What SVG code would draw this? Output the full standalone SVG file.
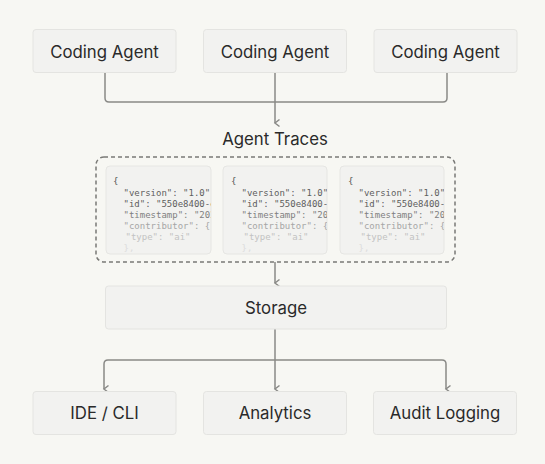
<svg xmlns="http://www.w3.org/2000/svg" width="545" height="464" viewBox="0 0 545 464">
<style>
.bg{fill:#f7f7f3}
.box{fill:#f2f2f0;stroke:#e4e4e1;stroke-width:1}
.card{fill:#f2f2f0;stroke:#e6e6e3;stroke-width:1}
.lbl{font-family:Inter,"Liberation Sans",sans-serif;font-size:16.8px;fill:#2a2a2a;text-anchor:middle}
.code{font-family:"DejaVu Sans Mono","Liberation Mono",monospace;font-size:9px}
.wire{fill:none;stroke:#8a8a87;stroke-width:1.5}
.dash{fill:none;stroke:#7a7a77;stroke-width:1.5;stroke-dasharray:4 3}
.l1{fill:#555}.l2{fill:#5e5e5e}.l3{fill:#808080}.l4{fill:#a6a6a6}.l5{fill:#c2c2c2}.l6{fill:#dcdcdc}
</style>
<defs>
<marker id="arr" viewBox="0 0 10 10" refX="5" refY="8" markerWidth="10" markerHeight="10" markerUnits="userSpaceOnUse" orient="auto-start-reverse">
<path d="M1.5,3.5 L5,8 L8.5,3.5" fill="none" stroke="#8a8a87" stroke-width="1.5"/>
</marker>
<clipPath id="c1"><rect x="106" y="166" width="105" height="88" rx="4"/></clipPath>
<clipPath id="c2"><rect x="223" y="166" width="104" height="88" rx="4"/></clipPath>
<clipPath id="c3"><rect x="340" y="166" width="104" height="88" rx="4"/></clipPath>
<g id="codetext">
<text class="code l1" x="0" y="184">{</text>
<text class="code l2" x="10.5" y="195.5">"version": "1.0",</text>
<text class="code l2" x="10.5" y="206.5">"id": "550e8400-e29b",</text>
<text class="code l3" x="10.5" y="217.5">"timestamp": "2025-01",</text>
<text class="code l4" x="10.5" y="228.5">"contributor": {</text>
<text class="code l5" x="12.5" y="239.5">"type": "ai"</text>
<text class="code l6" x="10.5" y="251">},</text>
</g>
</defs>
<rect class="bg" x="0" y="0" width="545" height="464"/>

<g id="connectors">
<path class="wire" d="M105,72 V98 Q105,102 109,102 H443 Q447,102 447,98 V72"/>
<path class="wire" d="M275,72 V123" marker-end="url(#arr)"/>
<path class="wire" d="M275,262 V283" marker-end="url(#arr)"/>
<path class="wire" d="M275,329 V389" marker-end="url(#arr)"/>
<path class="wire" d="M104,389 V364 Q104,360 108,360 H442 Q446,360 446,364 V389" marker-start="url(#arr)" marker-end="url(#arr)"/>
</g>

<g id="agent1"><rect class="box" x="33" y="29.5" width="143" height="43" rx="3"/><text class="lbl" x="104.5" y="57.5">Coding Agent</text></g>
<g id="agent2"><rect class="box" x="203.5" y="29.5" width="143" height="43" rx="3"/><text class="lbl" x="275" y="57.5">Coding Agent</text></g>
<g id="agent3"><rect class="box" x="374" y="29.5" width="143" height="43" rx="3"/><text class="lbl" x="445.5" y="57.5">Coding Agent</text></g>

<g id="traces">
<text class="lbl" x="275" y="144.5">Agent Traces</text>
<rect class="dash" x="96" y="157" width="359" height="105" rx="8"/>
<g id="card1"><rect class="card" x="106" y="166" width="105" height="88" rx="4"/><g clip-path="url(#c1)"><use href="#codetext" x="113"/></g></g>
<g id="card2"><rect class="card" x="223" y="166" width="104" height="88" rx="4"/><g clip-path="url(#c2)"><use href="#codetext" x="231"/></g></g>
<g id="card3"><rect class="card" x="340" y="166" width="104" height="88" rx="4"/><g clip-path="url(#c3)"><use href="#codetext" x="348"/></g></g>
</g>

<g id="storage"><rect class="box" x="105.5" y="286" width="341" height="43" rx="3"/><text class="lbl" x="276" y="313.5">Storage</text></g>

<g id="ide"><rect class="box" x="33" y="391.5" width="143" height="43" rx="3"/><text class="lbl" x="104.5" y="419">IDE / CLI</text></g>
<g id="analytics"><rect class="box" x="203.5" y="391.5" width="143" height="43" rx="3"/><text class="lbl" x="275" y="419">Analytics</text></g>
<g id="audit"><rect class="box" x="373.5" y="391.5" width="143" height="43" rx="3"/><text class="lbl" x="445" y="419">Audit Logging</text></g>
</svg>
